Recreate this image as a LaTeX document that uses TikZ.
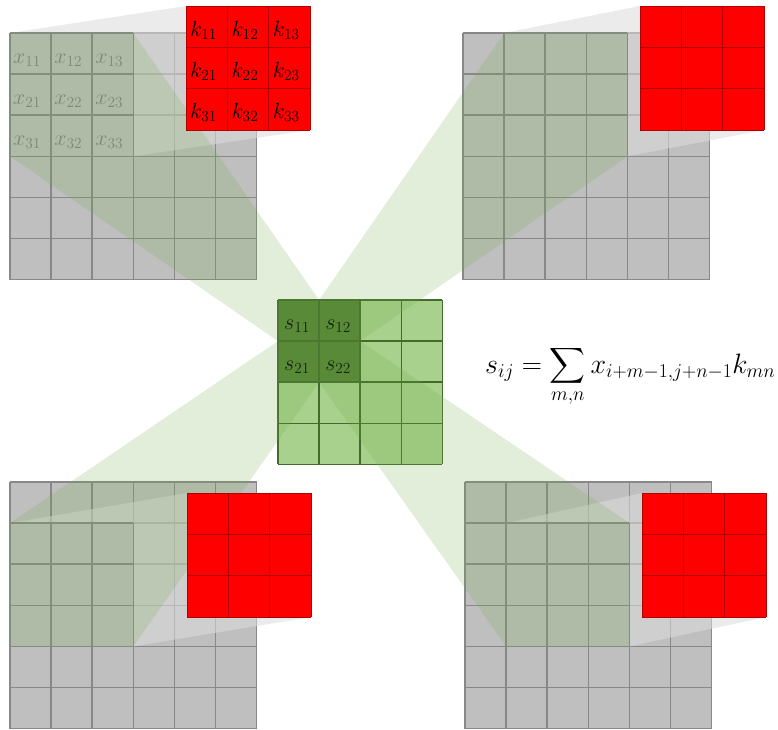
\RequirePackage{fix-cm}
\documentclass[tikz,border=0pt]{standalone}
\usepackage{exscale}
\usepackage{xcolor}
\definecolor{gridgray}{HTML}{BFBFBF}
\definecolor{gline}{HTML}{888888}
\definecolor{beamgreen}{HTML}{70AD47}
\definecolor{projgray}{HTML}{DCDCDC}
\definecolor{lightgreen}{HTML}{A9D18E}
\definecolor{darkgreen}{HTML}{548235}
\definecolor{greenline}{HTML}{436A2B}
\definecolor{kred}{HTML}{FF0000}
\definecolor{kline}{HTML}{B00000}
\definecolor{xtext}{HTML}{808080}
\newcommand{\InGrid}[2]{%
  \fill[gridgray] (#1,#2) rectangle ++(246.6,246.6);
  \foreach \k in {0,...,6}{%
    \draw[gridlinestyle] ({#1+\k*41.1},#2) -- ++(0,246.6);
    \draw[gridlinestyle] (#1,{#2+\k*41.1}) -- ++(246.6,0);
  }}
\newcommand{\HiCells}[2]{%
  \fill[gridgray] (#1,#2) rectangle ++(123.3,123.3);
  \foreach \k in {0,...,3}{%
    \draw[gridlinestyle] ({#1+\k*41.1},#2) -- ++(0,123.3);
    \draw[gridlinestyle] (#1,{#2+\k*41.1}) -- ++(123.3,0);
  }}
\newcommand{\KernGrid}[2]{%
  \fill[kred] (#1,#2) rectangle ++(124,124);
  \foreach \k in {0,...,3}{%
    \draw[kernlinestyle] ({#1+\k*41.333},#2) -- ++(0,124);
    \draw[kernlinestyle] (#1,{#2+\k*41.333}) -- ++(124,0);
  }}
\begin{document}
\begin{tikzpicture}[x=1pt,y=-1pt,
  gridlinestyle/.style={draw=gline, line width=1.6pt},
  kernlinestyle/.style={draw=kline, line width=0.8pt},
  greenlinestyle/.style={draw=greenline, line width=1.6pt},
  beam/.style={fill=beamgreen, fill opacity=0.2},
  proj/.style={fill=projgray, fill opacity=0.57},
  xlabel/.style={anchor=base west, inner sep=0pt, text=xtext, font=\fontsize{22}{26}\selectfont},
  klabel/.style={anchor=base west, inner sep=0pt, text=black, font=\fontsize{22}{26}\selectfont},
  slabel/.style={anchor=base west, inner sep=0pt, text=black, font=\fontsize{22}{26}\selectfont}]
\useasboundingbox (0,0) rectangle (778,729);
\fill[white] (0,0) rectangle (778,729);

% input grids
\InGrid{10}{33}
\InGrid{463}{33}
\InGrid{10}{482}
\InGrid{465}{482}

% projections from windows to kernels
\fill[proj] (10,33) -- (186,6) -- (310,6) -- (310,130) -- (133.3,156.3) -- (10,156.3) -- cycle;
\fill[proj] (504.1,33) -- (640,6) -- (764,6) -- (764,130) -- (627.4,156.3) -- (504.1,156.3) -- cycle;
\fill[proj] (10,523.1) -- (187,493) -- (311,493) -- (311,617) -- (133.3,646.4) -- (10,646.4) -- cycle;
\fill[proj] (506.1,523.1) -- (642,493) -- (766,493) -- (766,617) -- (629.4,646.4) -- (506.1,646.4) -- cycle;

% windows
\HiCells{10}{33}
\HiCells{504.1}{33}
\HiCells{10}{523.1}
\HiCells{506.1}{523.1}

\foreach \r in {1,2,3}{
  \foreach \c in {1,2,3}{
    \node[xlabel] (x\r\c) at ({10+(\c-1)*41.1+3},{33+(\r-1)*41.1+30}) {$x_{\r\c}$};
  }}

% output grid
\fill[lightgreen] (278,300) rectangle ++(164.4,164.4);
\fill[darkgreen] (278,300) rectangle ++(82.2,82.2);
\foreach \k in {0,...,4}{
  \draw[greenlinestyle] ({278+\k*41.1},300) -- ++(0,164.4);
  \draw[greenlinestyle] (278,{300+\k*41.1}) -- ++(164.4,0);
}
\foreach \r in {1,2}{
  \foreach \c in {1,2}{
    \node[slabel] (s\r\c) at ({278+(\c-1)*41.1+6},{300+(\r-1)*41.1+29}) {$s_{\r\c}$};
  }}

% beams
\fill[beam] (10,33) -- (133.3,33) -- (319.1,300) -- (319.1,341.1) -- (278,341.1) -- (10,156.3) -- cycle;
\fill[beam] (504.1,33) -- (627.4,33) -- (627.4,156.3) -- (360.2,341.1) -- (319.1,341.1) -- (319.1,300) -- cycle;
\fill[beam] (10,523.1) -- (278,341.1) -- (319.1,341.1) -- (319.1,382.2) -- (133.3,646.4) -- (10,646.4) -- cycle;
\fill[beam] (319.1,341.1) -- (360.2,341.1) -- (629.4,523.1) -- (629.4,646.4) -- (506.1,646.4) -- (319.1,382.2) -- cycle;

% kernels
\KernGrid{186}{6}
\KernGrid{640}{6}
\KernGrid{187}{493}
\KernGrid{642}{493}
\foreach \r in {1,2,3}{
  \foreach \c in {1,2,3}{
    \node[klabel] (k\r\c) at ({186+(\c-1)*41.333+4},{6+(\r-1)*41.333+30}) {$k_{\r\c}$};
  }}

% formula
\node[anchor=base west, inner sep=0pt, font=\fontsize{28}{33}\selectfont] (formula) at (485,373)
  {$\displaystyle s_{ij} = \sum_{m,n} x_{i+m-1,j+n-1}k_{mn}$};
\end{tikzpicture}
\end{document}
